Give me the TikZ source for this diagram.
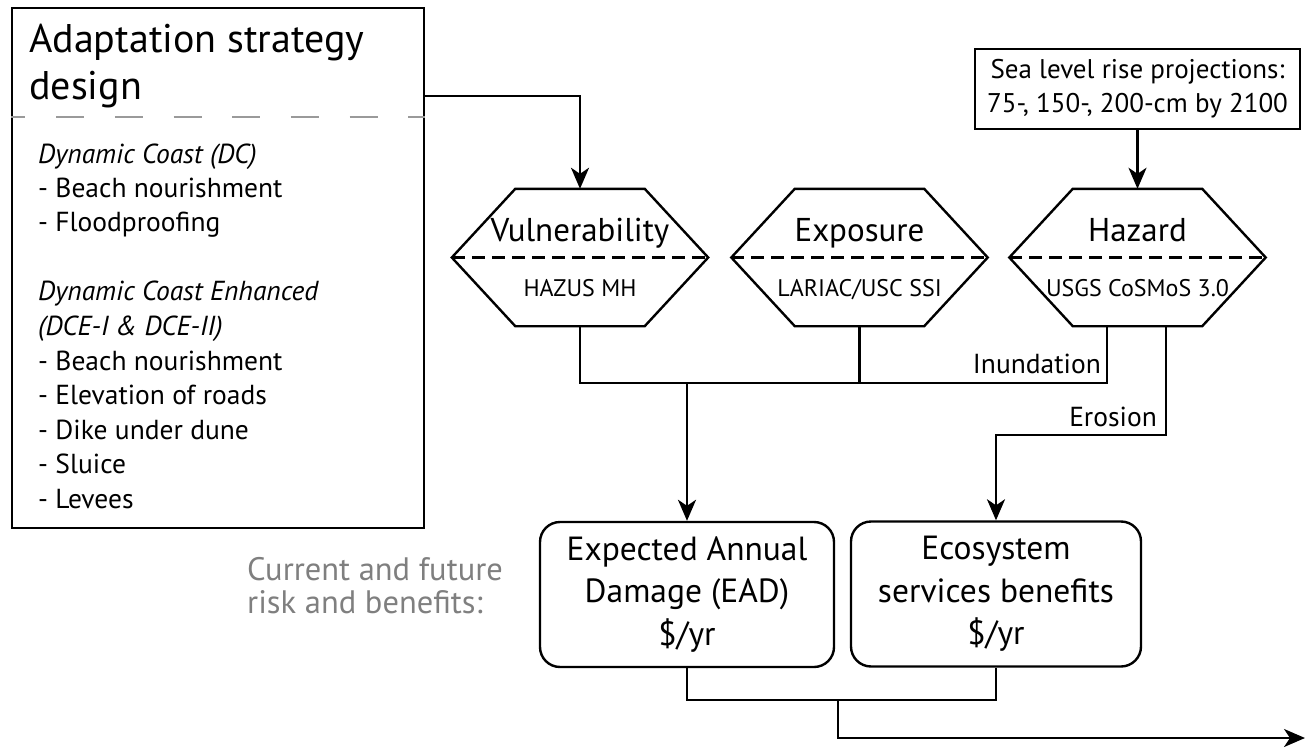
\documentclass[tikz,border=0pt]{standalone}
\usepackage{fontspec}
\setmainfont{PT Sans}
\usetikzlibrary{arrows.meta,calc}
\definecolor{lblgray}{HTML}{7F7F7F}
\definecolor{dashgray}{HTML}{9A9A9A}
\tikzset{
  conn/.style={line width=2.4pt},
  arr/.style={conn,-{Stealth[length=21pt,width=18pt,inset=6pt]}},
  hexbox/.style={minimum width=256pt,minimum height=137pt,inner sep=0pt,draw=none},
  hexline/.style={line width=2.4pt,line join=miter},
  hexdash/.style={line width=2.2pt,dash pattern=on 13pt off 7pt},
  hextitle/.style={anchor=base,inner sep=0pt,font=\fontsize{33}{40}\selectfont},
  hexsub/.style={anchor=base,inner sep=0pt,font=\fontsize{24}{28}\selectfont},
  resbox/.style={draw,line width=2.4pt,rounded corners=20pt,minimum height=145pt,align=center,inner sep=0pt,font=\fontsize{33.5}{42.5}\selectfont},
  flowlbl/.style={anchor=base east,inner sep=0pt,font=\fontsize{27.5}{30}\selectfont},
}
\begin{document}
\begin{tikzpicture}[x=1pt,y=-1pt]
\useasboundingbox (0,0) rectangle (1306,749);

% left box
\node[draw,line width=2.4pt,minimum width=412pt,minimum height=520pt,inner sep=0pt] (lb) at (218,268) {};
\draw[dashgray,line width=2.2pt,dash pattern=on 28pt off 30.7pt,dash phase=13.4pt] (lb.west |- 0,117) coordinate (dl) -- (lb.east |- 0,117) coordinate (dr);
\node[anchor=base west,inner sep=0pt] (title) at (29,53) {\parbox[t]{390pt}{\fontsize{40}{47}\selectfont Adaptation strategy\\design}};
\node[anchor=base west,inner sep=0pt] (body) at (38,163) {\parbox[t]{380pt}{\fontsize{27.5}{34.5}\selectfont
\textit{Dynamic Coast (DC)}\\
- Beach nourishment\\
- Floodproofing\\[34.5pt]
\textit{Dynamic Coast Enhanced}\\
\textit{(DCE-I \& DCE-II)}\\
- Beach nourishment\\
- Elevation of roads\\
- Dike under dune\\
- Sluice\\
- Levees}};
\coordinate (lbout) at (424,96);

% sea level box
\node[draw,line width=2.4pt,minimum width=325pt,minimum height=80pt,inner sep=0pt,align=center,font=\fontsize{27}{34}\selectfont] (sea) at (1137.5,89) {Sea level rise projections:\\75-, 150-, 200-cm by 2100};

% hexagons
\foreach \nm/\cx/\ttl/\sub in {vul/580/Vulnerability/HAZUS MH, exp/859.5/Exposure/LARIAC\slash USC SSI, haz/1137.5/Hazard/USGS CoSMoS 3.0}{
  \node[hexbox] (\nm) at (\cx,257.5) {};
  \draw[hexline] (\nm.west) -- ($(\nm.north west)+(63.5,0)$) -- ($(\nm.north east)+(-63.5,0)$) -- (\nm.east) -- ($(\nm.south east)+(-63.5,0)$) -- ($(\nm.south west)+(63.5,0)$) -- cycle;
  \draw[hexdash] (\nm.west) -- (\nm.east);
  \node[hextitle] (\nm-t) at (\cx,241.5) {\ttl};
  \node[hexsub] (\nm-s) at (\cx,296.5) {\sub};
}

% result boxes
\node[resbox,minimum width=294pt] (ead) at (687,594.5) {Expected Annual\\Damage (EAD)\\\$/yr};
\node[resbox,minimum width=290pt] (eco) at (996,594) {Ecosystem\\services benefits\\\$/yr};

\node[anchor=base west,inner sep=0pt,text=lblgray] (cur) at (247,580) {\parbox[t]{300pt}{\fontsize{32.5}{33}\selectfont Current and future\\risk and benefits:}};

% connectors
\coordinate (inund) at (1107,383);
\coordinate (eros) at (1166,435);
\coordinate (mid) at (838,700);
\coordinate (out) at (1305,738);

\draw[arr] (lbout) -| (vul.north);
\draw[arr] (sea.south) -- (haz.north);
\draw[conn] (vul.south) |- (inund) -- (inund |- haz.south);
\draw[conn] (exp.south) -- (exp.south |- inund);
\draw[arr] (ead.north |- inund) -- (ead.north);
\draw[arr] (eros |- haz.south) -- (eros) -| (eco.north);
\draw[conn] (ead.south) |- (mid) -| (eco.south);
\draw[arr] (mid) |- (out);

\node[flowlbl] (lInund) at (1101,373) {Inundation};
\node[flowlbl] (lEros) at (1157,426) {Erosion};
\end{tikzpicture}
\end{document}
